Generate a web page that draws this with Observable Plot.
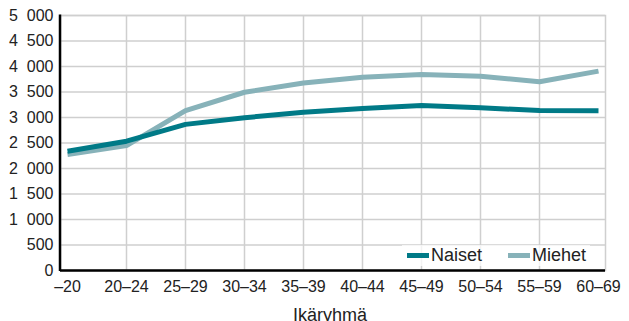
<!DOCTYPE html>
<html>
<head>
<meta charset="utf-8">
<script src="https://cdn.jsdelivr.net/npm/d3@7"></script>
<script src="https://cdn.jsdelivr.net/npm/@observablehq/plot@0.6"></script>
<style>
  body { margin: 0; background: #fff; font-family: "Liberation Sans", Arial, sans-serif; }
  #wrap { position: relative; width: 629px; height: 321px; overflow: hidden; }
  #legend { position: absolute; left: 402px; top: 245px; height: 21px; display: flex; align-items: center;
            font-size: 18px; color: #222; background: rgba(255,255,255,0.75); padding: 0 4px 0 5px; }
  .item { display: flex; align-items: center; }
  .sw { display: inline-block; width: 22px; height: 5px; margin-right: 2px; }
</style>
</head>
<body>
<div id="wrap"><div id="legend"></div></div>
<script>
const ageGroups = ["–20", "20–24", "25–29", "30–34", "35–39", "40–44", "45–49", "50–54", "55–59", "60–69"];
const naiset = [2340, 2535, 2865, 2995, 3105, 3175, 3235, 3190, 3135, 3130];
const miehet = [2275, 2450, 3135, 3495, 3675, 3790, 3845, 3810, 3700, 3910];
const seriesNames = ["Naiset", "Miehet"];
const seriesColors = ["#007a87", "#87b2b9"];
const yTicks = d3.range(0, 5001, 500);

const data = [
  ...miehet.map((v, i) => ({group: ageGroups[i], value: v, sukupuoli: "Miehet"})),
  ...naiset.map((v, i) => ({group: ageGroups[i], value: v, sukupuoli: "Naiset"}))
];

const fmt = d => d3.format(",")(d).replace(/,/g, "\u2007");

const leftAxisLine = (index, scales, values, dims) => {
  return d3.create("svg:line")
    .attr("x1", dims.marginLeft).attr("x2", dims.marginLeft)
    .attr("y1", dims.marginTop - 0.5).attr("y2", dims.height - dims.marginBottom + 1)
    .attr("stroke", "#000").attr("stroke-width", 2.5).node();
};

const chart = Plot.plot({
  width: 629,
  height: 321,
  marginLeft: 60,
  marginRight: 24,
  marginTop: 15,
  marginBottom: 51,
  style: {fontFamily: "Liberation Sans, Arial, sans-serif", fontSize: "16px", color: "#222", background: "#fff", overflow: "visible"},
  x: {type: "point", domain: ageGroups, range: [62.7, 602.5], padding: 0},
  y: {domain: [0, 5000]},
  color: {domain: seriesNames, range: seriesColors},
  marks: [
    Plot.ruleY(yTicks, {stroke: "#cfcfcf", strokeWidth: 1.5}),
    Plot.ruleX(ageGroups.slice(1, -1), {stroke: "#cfcfcf", strokeWidth: 1.5}),
    Plot.frame({stroke: "#cfcfcf", strokeWidth: 1.5}),
    Plot.axisY(yTicks, {tickSize: 0, tickPadding: 7, tickFormat: fmt, label: null}),
    Plot.axisX({tickSize: 0, tickPadding: 10, label: null}),
    Plot.line(data, {x: "group", y: "value", z: "sukupuoli", stroke: "sukupuoli", strokeWidth: 5,
                     strokeLinejoin: "miter", strokeLinecap: "butt"}),
    Plot.ruleY([0], {stroke: "#000", strokeWidth: 2.5}),
    leftAxisLine,
    Plot.text(["Ikäryhmä"], {text: d => d, frameAnchor: "bottom", dy: 50, dx: -3, fontSize: 18, fill: "#222"})
  ]
});
document.getElementById("wrap").prepend(chart);

const legend = d3.select("#legend");
seriesNames.forEach((name, i) => {
  const item = legend.append("div").attr("class", "item").style("margin-right", i === 0 ? "26px" : "0px");
  item.append("span").attr("class", "sw").style("background", seriesColors[i]);
  item.append("span").text(name);
});
</script>
</body>
</html>
